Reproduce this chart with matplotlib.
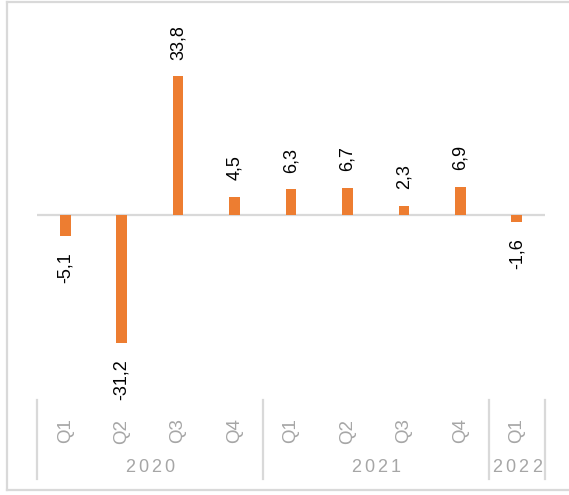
import matplotlib
matplotlib.use("Agg")
import matplotlib.pyplot as plt
from matplotlib.lines import Line2D
from matplotlib.transforms import blended_transform_factory

plt.rcParams['font.family'] = ['Liberation Sans', 'DejaVu Sans']

quarters = ["Q1", "Q2", "Q3", "Q4", "Q1", "Q2", "Q3", "Q4", "Q1"]
years = ["2020", "2021", "2022"]
year_counts = [4, 4, 1]
values = [-5.1, -31.2, 33.8, 4.5, 6.3, 6.7, 2.3, 6.9, -1.6]

W, H = 569, 495
fig = plt.figure(figsize=(W / 100, H / 100), dpi=100)
ax = fig.add_axes([37 / W, 97 / H, (545 - 37) / W, (485 - 97) / H])

x = list(range(len(values)))
ax.bar(x, values, width=0.19, color="#ED7D31", zorder=2)
ax.set_xlim(-0.5, len(values) - 0.5)
ax.set_ylim(-44.6, 50.0)
ax.axhline(0, color="#d9d9d9", lw=1.6, zorder=1)
for s in ax.spines.values():
    s.set_visible(False)
ax.set_xticks([])
ax.set_yticks([])

for xi, v in zip(x, values):
    lab = f"{v:.1f}".replace(".", ",")
    if v >= 0:
        ax.annotate(lab, (xi, v), xytext=(0, 12), textcoords="offset points",
                    rotation=90, ha="center", va="bottom", fontsize=13, color="#000000")
    else:
        ax.annotate(lab, (xi, v), xytext=(0, -12), textcoords="offset points",
                    rotation=90, ha="center", va="top", fontsize=13, color="#000000")

def fy(p):
    return 1 - p / H

bt = blended_transform_factory(ax.transData, fig.transFigure)

for xi, q in zip(x, quarters):
    ax.text(xi, fy(431), q, transform=bt, rotation=90, ha="center", va="center",
            fontsize=13.5, color="#a6a6a6")

bounds = [-0.5]
start = -0.5
for y, n in zip(years, year_counts):
    c = start + n / 2
    pitch = 0.235
    for k, ch in enumerate(y):
        ax.text(c + (k - 1.5) * pitch, fy(468), ch, transform=bt, ha="center", va="center",
                fontsize=13, color="#a6a6a6")
    start += n
    bounds.append(start)

for b in bounds:
    ax.add_line(Line2D([b, b], [fy(400), fy(479)], transform=bt, color="#d9d9d9",
                       lw=1.6, clip_on=False))

# outer border
for xs, ys in [([7, 7], [2, 490]), ([7, 569], [2, 2]), ([7, 569], [490, 490])]:
    fig.add_artist(Line2D([a / W for a in xs], [fy(b) for b in ys], color="#d9d9d9", lw=1.6))

fig.savefig("out.png", dpi=100)
